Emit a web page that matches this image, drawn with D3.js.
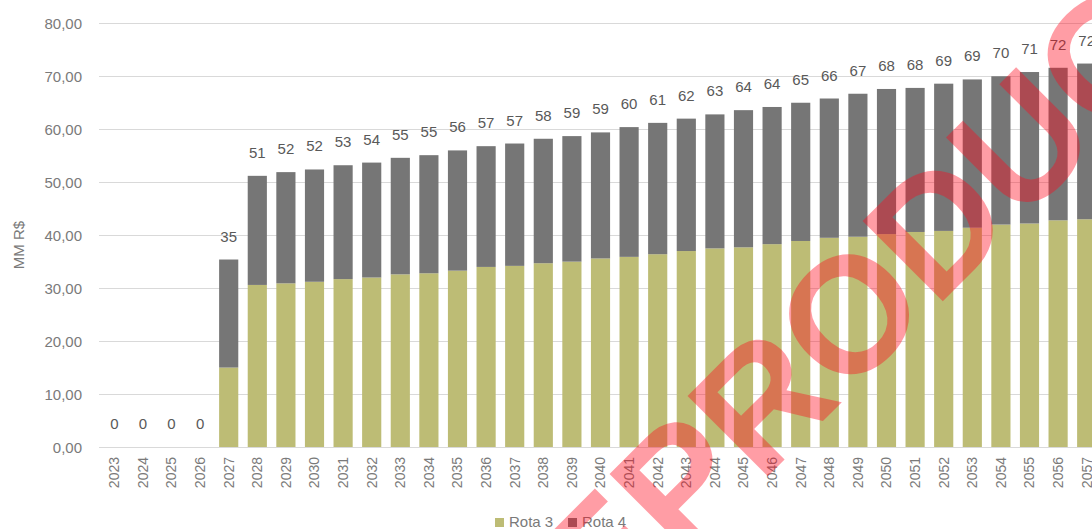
<!DOCTYPE html>
<html>
<head>
<meta charset="utf-8">
<script src="https://cdn.jsdelivr.net/npm/d3@7"></script>
<style>
  html, body { margin: 0; padding: 0; background: #ffffff; overflow: hidden; }
  svg { display: block; }
</style>
</head>
<body>
<svg id="chart" width="1092" height="529"></svg>
<script>
// ---- data ----
const years = ["2023","2024","2025","2026","2027","2028","2029","2030","2031","2032","2033","2034","2035","2036","2037","2038","2039","2040","2041","2042","2043","2044","2045","2046","2047","2048","2049","2050","2051","2052","2053","2054","2055","2056","2057"];
const rota3 = [0,0,0,0,15.0,30.6,30.9,31.2,31.7,32.0,32.6,32.8,33.3,34.0,34.2,34.7,35.0,35.6,35.9,36.4,37.0,37.5,37.7,38.3,38.9,39.5,39.7,40.2,40.6,40.8,41.4,42.0,42.2,42.8,43.0];
const rota4 = [0,0,0,0,20.4,20.6,21.0,21.2,21.5,21.7,22.0,22.3,22.7,22.8,23.1,23.5,23.7,23.8,24.5,24.8,25.0,25.3,25.9,25.9,26.1,26.3,27.0,27.4,27.2,27.8,28.0,28.0,28.6,28.8,29.4];
const seriesNames = ["Rota 3", "Rota 4"];
const yTicks = [0,10,20,30,40,50,60,70,80];
const yTitle = "MM R$";
const watermarkText = "REPRODUÇÃO";

// ---- styles ----
const colors = { "Rota 3": "#bdbc75", "Rota 4": "#767676" };
const FONT = "'Liberation Sans', Arial, sans-serif";

const svg = d3.select("#chart");

const x = d3.scaleBand().domain(years).range([100, 1101]).paddingInner(0.33).paddingOuter(0.165);
const y = d3.scaleLinear().domain([0, 80]).range([447, 23.3]);

// gridlines
svg.append("g").selectAll("line").data(yTicks).join("line")
  .attr("x1", 99).attr("x2", 1092)
  .attr("y1", d => Math.round(y(d)) + 0.5).attr("y2", d => Math.round(y(d)) + 0.5)
  .attr("stroke", "#d9d9d9").attr("stroke-width", 1);

// y axis labels
const fmt = d => d3.format(".2f")(d).replace(".", ",");
const yAxis = d3.axisLeft(y).tickValues(yTicks).tickFormat(fmt).tickSize(0).tickPadding(0);
const gy = svg.append("g").attr("transform", "translate(82,0)").call(yAxis);
gy.select(".domain").remove();
gy.selectAll("text").attr("font-family", FONT).attr("font-size", 15).attr("fill", "#7a7a7a").attr("dy", "0.35em");

// y title
svg.append("text")
  .attr("transform", "translate(24,245) rotate(-90)")
  .attr("text-anchor", "middle")
  .attr("font-family", FONT).attr("font-size", 15).attr("fill", "#7a7a7a")
  .text(yTitle);

// x axis labels
const xAxis = d3.axisBottom(x).tickSize(0).tickPadding(0);
const gx = svg.append("g").attr("transform", "translate(0,447)").call(xAxis);
gx.select(".domain").remove();
gx.selectAll("text")
  .attr("font-family", FONT).attr("font-size", 14).attr("fill", "#7a7a7a")
  .attr("text-anchor", "end")
  .attr("transform", "rotate(-90)")
  .attr("x", -10).attr("y", 0).attr("dy", "0.35em");

// stacked bars
const rows = years.map((yr, i) => ({ year: yr, "Rota 3": rota3[i], "Rota 4": rota4[i] }));
const stack = d3.stack().keys(seriesNames)(rows);
svg.append("g").selectAll("g").data(stack).join("g")
  .attr("fill", s => colors[s.key])
  .selectAll("rect").data(s => s).join("rect")
  .attr("x", d => x(d.data.year))
  .attr("width", x.bandwidth())
  .attr("y", d => y(d[1]))
  .attr("height", d => Math.max(0, y(d[0]) - y(d[1])));

// total labels
svg.append("g").selectAll("text").data(rows).join("text")
  .attr("x", d => x(d.year) + x.bandwidth() / 2)
  .attr("y", d => y(d["Rota 3"] + d["Rota 4"]) - 18)
  .attr("text-anchor", "middle")
  .attr("font-family", FONT).attr("font-size", 15).attr("fill", "#595959")
  .text(d => d3.format(".0f")(d["Rota 3"] + d["Rota 4"]));

// legend
const legend = svg.append("g").attr("transform", "translate(495,518)");
const li = legend.selectAll("g").data(seriesNames).join("g")
  .attr("transform", (d, i) => `translate(${i * 73},0)`);
li.append("rect").attr("width", 9).attr("height", 9).attr("fill", d => colors[d]);
li.append("text").attr("x", 14).attr("y", 9)
  .attr("font-family", FONT).attr("font-size", 15).attr("fill", "#7a7a7a")
  .text(d => d);

// watermark
svg.append("text")
  .attr("transform", "translate(520,724) rotate(-45)")
  .attr("font-family", FONT).attr("font-weight", "bold").attr("font-size", 165)
  .attr("fill", "#ff0a1e").attr("fill-opacity", 0.4)
  .text(watermarkText);
</script>
</body>
</html>
